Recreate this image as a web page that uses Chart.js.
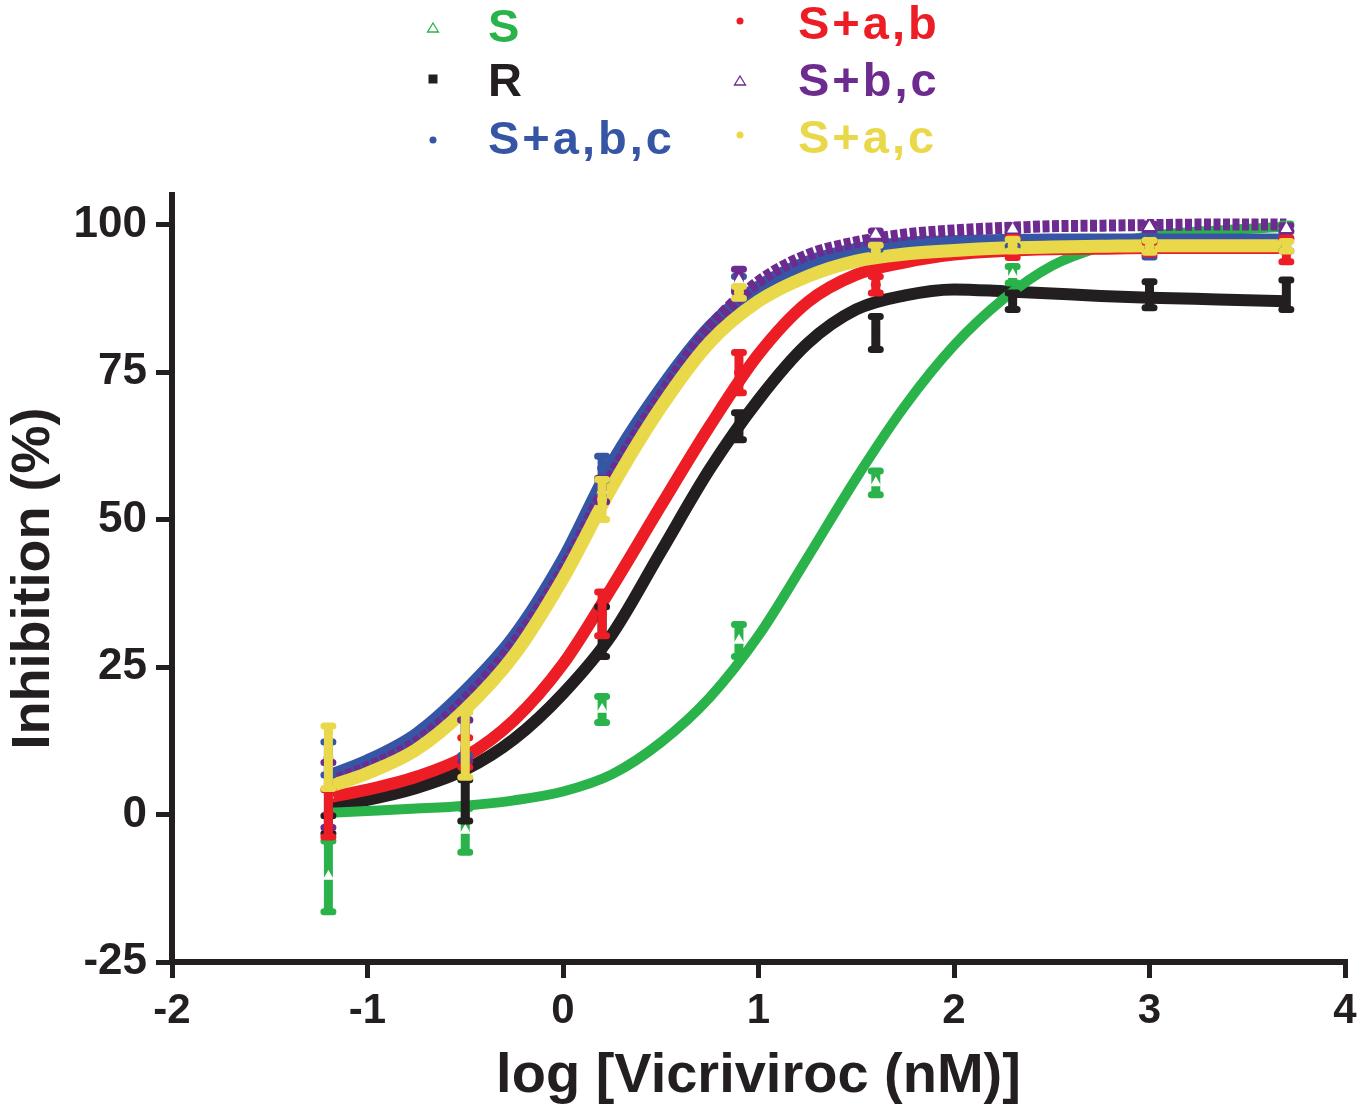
<!DOCTYPE html>
<html>
<head>
<meta charset="utf-8">
<title>Vicriviroc inhibition</title>
<script src="https://cdn.jsdelivr.net/npm/chart.js@4/dist/chart.umd.min.js"></script>
<style>
    html, body { margin: 0; padding: 0; background: #fff; }
    #holder { width: 1370px; height: 1110px; position: relative; }
</style>
</head>
<body>
<div id="holder"><canvas id="chart" width="1370" height="1110"></canvas></div>
<script>
// Values
var seriesNames = ['S', 'R', 'S+a,b,c', 'S+a,b', 'S+b,c', 'S+a,c'];

// measured doses (log nM) and mean inhibition (%) with error
var doseLog = [-1.2, -0.5, 0.2, 0.9, 1.6, 2.3, 3.0, 3.7];
var meanS    = [-10.5, -2.7, 17.8, 29.5, 56.2, 91.5, 98.3, 99.5];
var errS     = [6, 3.7, 2.2, 2.7, 2, 1.4, 1, 0.6];
var meanR    = [-1.7, 2.4, 31, 65.8, 81.6, 87, 88.1, 88.1];
var errR     = [1.5, 3.5, 4.2, 2.3, 2.8, 1.4, 2.2, 2.5];
var meanSabc = [9.5, 13, 58.7, 90.2, 96.6, 97.5, 96.5, 96.5];
var errSabc  = [2.8, 3, 2, 1, 0.8, 1.2, 2, 1];
var meanSab  = [0.2, 10.5, 34, 74.9, 89.8, 96.1, 96, 95.7];
var errSab   = [4, 2.5, 3.7, 3.4, 1.4, 1.7, 1, 2];
var meanSbc  = [3.3, 12.5, 55, 90.5, 98.3, 99.2, 99.6, 99.3];
var errSbc   = [5.5, 3.5, 2, 1.9, 0.6, 0.6, 0.5, 0.5];
var meanSac  = [9.7, 11.8, 53.4, 88.5, 95.5, 96.5, 96.3, 96.3];
var errSac   = [5.3, 5.5, 3.4, 1, 1, 1, 1, 0.8];

// fitted curves, read at these x positions
var curveX    = [-1.2, -1.0, -0.75, -0.5, -0.25, 0, 0.25, 0.5, 0.75, 1.0, 1.25, 1.5, 1.75, 2.0, 2.25, 2.5, 2.75, 3.0, 3.35, 3.7];
var curveS    = [0.3, 0.6, 1.0, 1.5, 2.4, 3.9, 6.8, 12.2, 19.8, 30.3, 43.5, 57, 69.3, 79.5, 87.3, 93, 96.2, 98, 99, 99.6];
var curveR    = [1.4, 2.5, 4.5, 7.6, 12.8, 20.5, 30.5, 44.5, 58.5, 70.3, 79.8, 85.6, 88, 89, 88.7, 88.3, 87.9, 87.6, 87.3, 87];
var curveSabc = [6.4, 9, 13.5, 20.8, 30, 43, 59.3, 72, 82.5, 89.3, 93.5, 95.7, 96.7, 97, 97.2, 97.3, 97.3, 97.3, 97.3, 97.3];
var curveSab  = [2.9, 4.2, 6.4, 9.8, 16, 25.5, 38.5, 52.3, 65.8, 78, 86.8, 91.5, 93.6, 94.9, 95.5, 95.8, 95.9, 96, 96, 96];
var curveSbc  = [5.5, 8, 12.3, 19.5, 29, 41.5, 57.5, 71, 82.5, 90.3, 94.8, 97, 98.3, 99, 99.4, 99.7, 99.8, 99.9, 100, 100];
var curveSac  = [4.7, 7, 11, 17.8, 27, 40, 55.5, 69, 80, 87, 91.2, 93.8, 95, 95.6, 96, 96.2, 96.3, 96.4, 96.4, 96.4];

var xTicks = [-2, -1, 0, 1, 2, 3, 4];
var yTicks = [-25, 0, 25, 50, 75, 100];

var ink = '#231f20';
var fontFamily = '"Liberation Sans", Arial, Helvetica, sans-serif';

var seriesStyle = {
    'S':       { color: '#2bb34b', marker: 'triangle', lineWidth: 10 },
    'R':       { color: ink,       marker: 'rect',     lineWidth: 12 },
    'S+a,b,c': { color: '#3656a5', marker: 'circle',   lineWidth: 14 },
    'S+a,b':   { color: '#ec1d25', marker: 'circle',   lineWidth: 12 },
    'S+b,c':   { color: '#6d2a8f', marker: 'triangle', lineWidth: 12, dash: [7, 2.5] },
    'S+a,c':   { color: '#e9d94a', marker: 'circle',   lineWidth: 13 }
};

var seriesData = {
    'S':       { mean: meanS,    err: errS,    curve: curveS },
    'R':       { mean: meanR,    err: errR,    curve: curveR },
    'S+a,b,c': { mean: meanSabc, err: errSabc, curve: curveSabc },
    'S+a,b':   { mean: meanSab,  err: errSab,  curve: curveSab },
    'S+b,c':   { mean: meanSbc,  err: errSbc,  curve: curveSbc },
    'S+a,c':   { mean: meanSac,  err: errSac,  curve: curveSac }
};

/*
 * Points with error bars (first in the list is drawn on top)
 */
var pointDataset = function(name) {
    var st = seriesStyle[name];
    var d = seriesData[name];
    var hollow = st.marker == 'triangle';
    return {
        type: 'scatter',
        label: name,
        data: doseLog.map(function(x, i) { return { x: x, y: d.mean[i] }; }),
        errors: d.err,
        errColor: st.color,
        pointStyle: st.marker,
        pointRadius: hollow ? 5 : 4.5,
        pointBorderWidth: hollow ? 1.5 : 1,
        pointBackgroundColor: hollow ? '#fff' : st.color,
        pointBorderColor: hollow ? '#fff' : st.color,
        showLine: false
    };
};

/*
 * Fitted curve
 */
var curveDataset = function(name) {
    var st = seriesStyle[name];
    var d = seriesData[name];
    return {
        type: 'line',
        label: name + ' fit',
        data: curveX.map(function(x, i) { return { x: x, y: d.curve[i] }; }),
        borderColor: st.color,
        borderWidth: st.lineWidth,
        borderDash: st.dash || [],
        borderCapStyle: 'butt',
        cubicInterpolationMode: 'monotone',
        pointRadius: 0,
        fill: false
    };
};

var datasets = ['S+a,c', 'S+a,b', 'S+b,c', 'S+a,b,c', 'R', 'S'].map(pointDataset)
    .concat(['S+a,c', 'S+b,c', 'S+a,b,c', 'S+a,b', 'S', 'R'].map(curveDataset));

// Error bars drawn just before each point set, so markers stay on top
var errorBars = {
    id: 'errorBars',
    beforeDatasetDraw: function(chart, args) {
        var ds = chart.data.datasets[args.index];
        if (!ds.errors) return;
        var ctx = chart.ctx;
        var xs = chart.scales.x, ys = chart.scales.y;
        ctx.save();
        ctx.strokeStyle = ds.errColor;
        ds.data.forEach(function(p, i) {
            var e = ds.errors[i];
            var px = xs.getPixelForValue(p.x);
            var top = ys.getPixelForValue(p.y + e);
            var bot = ys.getPixelForValue(p.y - e);
            ctx.lineCap = 'butt';
            ctx.lineWidth = 9;
            ctx.beginPath();
            ctx.moveTo(px, top);
            ctx.lineTo(px, bot);
            ctx.stroke();
            ctx.lineCap = 'round';
            ctx.lineWidth = 7;
            ctx.beginPath();
            ctx.moveTo(px - 4.5, top); ctx.lineTo(px + 4.5, top);
            ctx.moveTo(px - 4.5, bot); ctx.lineTo(px + 4.5, bot);
            ctx.stroke();
        });
        ctx.restore();
    }
};

// Legend in two columns above the plot
var legendSlots = {
    'S':       { mx: 433, my: 28,  tx: 488, ty: 42 },
    'R':       { mx: 433, my: 79,  tx: 488, ty: 96 },
    'S+a,b,c': { mx: 433, my: 140, tx: 488, ty: 154 },
    'S+a,b':   { mx: 740, my: 21,  tx: 798, ty: 39 },
    'S+b,c':   { mx: 740, my: 81,  tx: 798, ty: 96 },
    'S+a,c':   { mx: 740, my: 135, tx: 798, ty: 153 }
};

var drawMarker = function(ctx, kind, color, x, y) {
    ctx.fillStyle = color;
    ctx.strokeStyle = color;
    if (kind == 'triangle') {
        ctx.lineWidth = 1.3;
        ctx.beginPath();
        ctx.moveTo(x, y - 5);
        ctx.lineTo(x + 5.5, y + 4);
        ctx.lineTo(x - 5.5, y + 4);
        ctx.closePath();
        ctx.stroke();
    } else if (kind == 'rect') {
        ctx.fillRect(x - 4.5, y - 4.5, 9, 9);
    } else {
        ctx.beginPath();
        ctx.arc(x, y, 3.5, 0, Math.PI * 2);
        ctx.fill();
    }
};

var topLegend = {
    id: 'topLegend',
    afterDraw: function(chart) {
        var ctx = chart.ctx;
        ctx.save();
        seriesNames.forEach(function(name) {
            var slot = legendSlots[name];
            var st = seriesStyle[name];
            drawMarker(ctx, st.marker, st.color, slot.mx, slot.my);
            ctx.font = 'bold 47px ' + fontFamily;
            ctx.letterSpacing = '3px';
            ctx.textAlign = 'left';
            ctx.textBaseline = 'alphabetic';
            ctx.fillStyle = st.color;
            ctx.fillText(name, slot.tx, slot.ty);
        });
        ctx.restore();
    }
};

var chart = new Chart(document.getElementById('chart').getContext('2d'), {
    data: { datasets: datasets },
    options: {
        responsive: false,
        animation: false,
        devicePixelRatio: 1,
        layout: { padding: { top: 195, right: 25, left: 0, bottom: 0 } },
        plugins: {
            legend: { display: false },
            tooltip: { enabled: false }
        },
        scales: {
            x: {
                type: 'linear',
                min: -2,
                max: 4,
                afterBuildTicks: function(s) { s.ticks = xTicks.map(function(v) { return { value: v }; }); },
                afterFit: function(s) { s.height = 148; },
                border: { display: true, width: 6, color: ink },
                grid: { display: true, drawOnChartArea: false, drawTicks: true, tickLength: 16, lineWidth: 5, color: ink },
                ticks: {
                    color: ink,
                    padding: 8,
                    maxRotation: 0,
                    autoSkip: false,
                    font: { family: fontFamily, size: 42, weight: 'bold' }
                },
                title: {
                    display: true,
                    text: 'log [Vicriviroc (nM)]',
                    color: ink,
                    padding: 0,
                    font: { family: fontFamily, size: 56, weight: 'bold' }
                }
            },
            y: {
                type: 'linear',
                min: -25,
                max: 105,
                afterBuildTicks: function(s) { s.ticks = yTicks.map(function(v) { return { value: v }; }); },
                afterFit: function(s) { s.width = 172; },
                border: { display: true, width: 6, color: ink },
                grid: { display: true, drawOnChartArea: false, drawTicks: true, tickLength: 16, lineWidth: 5, color: ink },
                ticks: {
                    color: ink,
                    padding: 9,
                    autoSkip: false,
                    font: { family: fontFamily, size: 44, weight: 'bold' }
                },
                title: {
                    display: true,
                    text: 'Inhibition (%)',
                    color: ink,
                    padding: { top: 2, bottom: 0 },
                    font: { family: fontFamily, size: 54, weight: 'bold' }
                }
            }
        }
    },
    plugins: [errorBars, topLegend]
});
</script>
</body>
</html>
